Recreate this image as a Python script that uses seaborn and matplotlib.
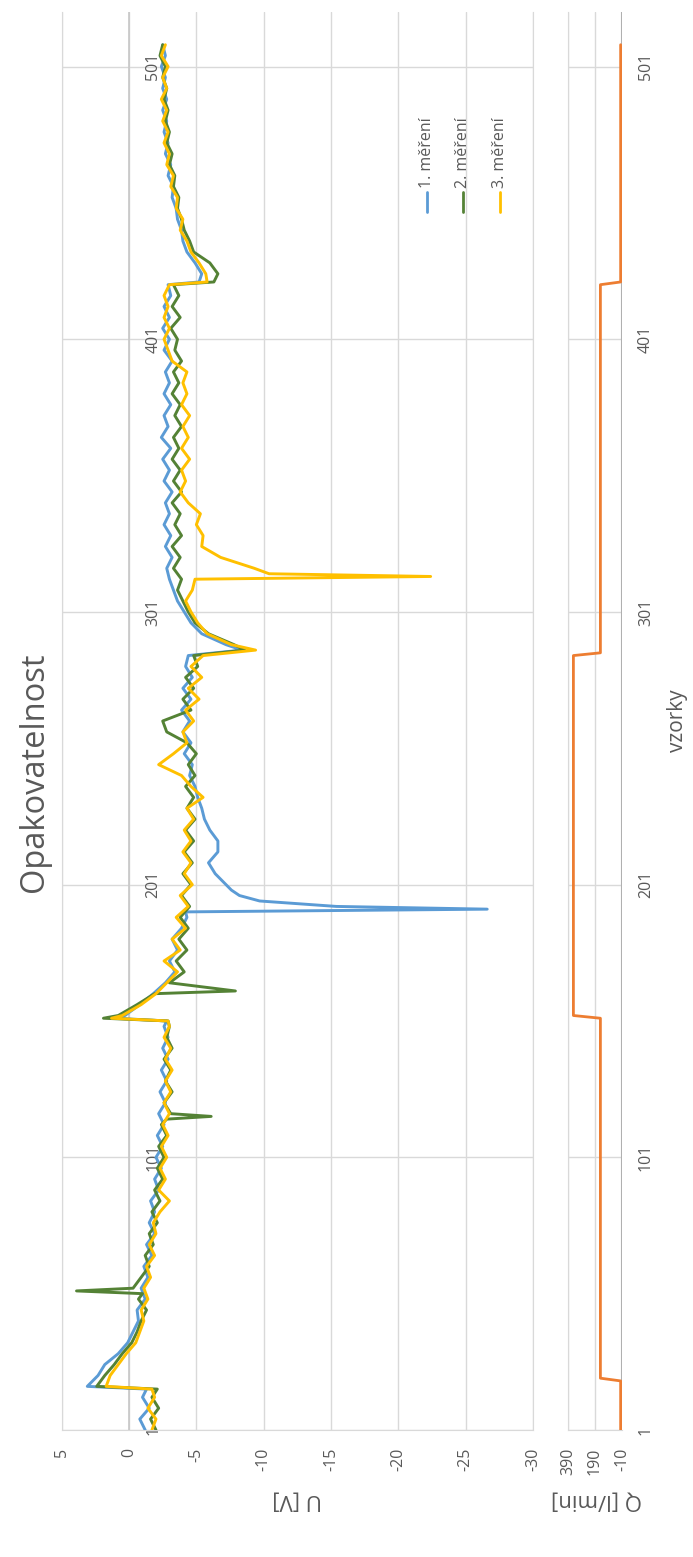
import pandas as pd
import seaborn as sns
import matplotlib.pyplot as plt
from matplotlib.lines import Line2D

# vzorky (samples) on a coarse grid, U [V]
vzorky = list(range(1, 510, 4))

mereni1 = [-1.2, -0.8, -1.5, -1.0, 3.1, 2.3, 1.8, 0.8,
           0.1, -0.3, -0.7, -0.6, -1.2, -0.9, -1.4, -1.1,
           -1.7, -1.3, -1.9, -1.5, -1.9, -1.6, -2.2, -1.9,
           -2.4, -2.0, -2.5, -2.1, -2.6, -2.2, -2.7, -2.3,
           -2.8, -2.4, -2.9, -2.5, -2.9, -2.6, 0.3, -0.8,
           -1.8, -2.7, -3.4, -3.0, -3.6, -3.2, -3.9, -4.3,
           -15.4, -8.2, -7.2, -6.4, -5.9, -6.6, -6.6, -6.0,
           -5.6, -5.4, -5.1, -4.9, -4.5, -4.7, -4.1, -4.6,
           -4.0, -4.5, -3.9, -4.6, -4.0, -4.7, -4.2, -4.4,
           -7.2, -5.4, -4.6, -4.1, -3.6, -3.3, -3.0, -2.8,
           -3.2, -2.7, -3.1, -2.6, -3.0, -2.7, -3.2, -2.6,
           -3.0, -2.5, -3.1, -2.4, -2.9, -2.6, -3.1, -2.6,
           -3.0, -2.7, -3.2, -2.6, -3.0, -2.5, -3.0, -2.6,
           -3.1, -2.9, -5.4, -4.9, -4.3, -4.0, -3.9, -3.6,
           -3.5, -3.2, -3.3, -2.9, -3.1, -2.7, -2.9, -2.6,
           -2.8, -2.5, -2.8, -2.5, -2.7, -2.4, -2.7, -2.5]
spicky1_x = [16, 151, 152, 191, 192, 195, 199, 287, 422]
spicky1_y = [-1.3, -2.8, 1.0, -4.2, -26.6, -9.7, -7.6, -8.4, -5.2]

mereni2 = [-2.0, -1.6, -2.2, -1.7, 2.4, 1.8, 1.1, 0.5,
           -0.2, -0.6, -0.9, -1.3, -0.7, -0.3, -0.9, -1.5,
           -1.2, -1.8, -1.5, -2.1, -1.7, -2.3, -1.9, -2.5,
           -2.1, -2.6, -2.2, -2.8, -2.4, -3.1, -2.6, -3.2,
           -2.7, -3.1, -2.6, -3.2, -2.8, -3.0, 0.8, -0.6,
           -1.9, -3.0, -4.1, -3.5, -4.3, -3.7, -4.4, -3.8,
           -4.5, -3.9, -4.6, -4.0, -4.7, -4.1, -4.8, -4.2,
           -4.9, -4.3, -4.8, -4.2, -4.9, -4.4, -5.0, -4.3,
           -2.8, -2.5, -4.6, -4.0, -4.8, -4.2, -5.1, -4.8,
           -7.8, -5.9, -4.9, -4.4, -4.0, -3.6, -3.9, -3.3,
           -3.8, -3.2, -3.9, -3.4, -3.8, -3.2, -3.9, -3.3,
           -3.8, -3.2, -3.7, -3.3, -3.9, -3.4, -3.8, -3.2,
           -3.7, -3.3, -3.9, -3.4, -3.6, -3.1, -3.8, -3.2,
           -3.7, -3.3, -6.6, -6.0, -4.8, -4.5, -4.1, -3.9,
           -3.6, -3.7, -3.3, -3.4, -3.0, -3.2, -2.8, -3.0,
           -2.7, -2.9, -2.6, -2.8, -2.5, -2.7, -2.3, -2.5]
spicky2_x = [16, 51, 52, 115, 116, 151, 152, 162, 287, 422]
spicky2_y = [-2.1, -1.0, 3.9, -2.8, -6.1, -2.9, 1.9, -7.9, -8.6, -6.3]

mereni3 = [-1.7, -2.0, -1.4, -1.9, 1.7, 1.4, 0.8, 0.2,
           -0.5, -0.8, -1.1, -0.9, -1.4, -1.1, -1.6, -1.3,
           -1.9, -1.5, -2.0, -1.8, -2.3, -3.0, -2.2, -2.7,
           -2.3, -2.8, -2.4, -2.9, -2.5, -3.0, -2.6, -3.1,
           -2.7, -3.2, -2.7, -3.1, -2.6, -3.0, 0.5, -0.9,
           -2.0, -2.8, -3.6, -2.6, -3.8, -3.2, -4.2, -3.5,
           -4.4, -3.8, -4.7, -4.1, -4.6, -4.0, -4.6, -4.1,
           -4.8, -4.3, -5.5, -4.6, -3.9, -2.2, -3.3, -4.3,
           -4.0, -4.8, -4.2, -5.2, -4.4, -5.4, -4.6, -5.5,
           -7.6, -5.8, -5.1, -4.6, -4.2, -4.7, -4.9, -9.3,
           -6.8, -5.4, -5.5, -5.0, -5.3, -4.4, -3.8, -4.2,
           -3.9, -4.5, -3.9, -4.4, -4.0, -4.5, -3.9, -4.3,
           -4.0, -4.3, -3.2, -2.9, -2.6, -3.0, -2.6, -2.9,
           -2.6, -3.0, -5.7, -5.2, -4.6, -4.3, -3.8, -4.0,
           -3.5, -3.6, -3.1, -3.3, -2.8, -3.0, -2.6, -2.9,
           -2.5, -2.8, -2.4, -2.8, -2.5, -2.9, -2.4, -2.7]
spicky3_x = [16, 151, 152, 287, 314, 315, 422]
spicky3_y = [-1.7, -2.9, 1.3, -9.4, -22.4, -10.4, -5.8]

# flow Q [l/min]
prutok_x = [1, 19, 20, 152, 153, 285, 286, 421, 422, 509]
prutok_y = [0, 0, 150, 150, 350, 350, 150, 150, 0, 0]

nazvy = ['1. měření', '2. měření', '3. měření']
barvy = ['#5B9BD5', '#548235', '#FFC000']
u_ticks = [5, 0, -5, -10, -15, -20, -25, -30]
q_ticks = [390, 190, -10]
vzorky_ticks = [1, 101, 201, 301, 401, 501]

sns.set_style('white')
plt.rcParams['font.family'] = ['Open Sans', 'DejaVu Sans']
sedy = '#595959'
mrizka = '#d9d9d9'

W, H = 693, 1557
fig = plt.figure(figsize=(W / 100, H / 100), dpi=100)
ax = fig.add_axes([61.7 / W, 1 - 1430 / H, (533 - 61.7) / W, (1430 - 12) / H])
ax_q = fig.add_axes([568 / W, 1 - 1430 / H, (622 - 568) / W, (1430 - 12) / H], sharey=ax)


def serie(base, ex_x, ex_y):
    df = pd.DataFrame({'vzorek': vzorky + ex_x, 'U': base + ex_y})
    return df.sort_values('vzorek')


data = [serie(mereni1, spicky1_x, spicky1_y),
        serie(mereni2, spicky2_x, spicky2_y),
        serie(mereni3, spicky3_x, spicky3_y)]

for df, barva in zip(data, barvy):
    sns.lineplot(data=df, x='U', y='vzorek', orient='y', estimator=None, sort=True,
                 color=barva, lw=2.1, ax=ax, zorder=3)

ax.set_xlim(5, -30)
ax.set_ylim(1, 521)
ax.set_xticks(u_ticks)
ax.set_xticklabels([str(t) for t in u_ticks], rotation=90)
ax.set_yticks(vzorky_ticks)
ax.tick_params(axis='y', left=False, labelleft=False)
ax.tick_params(axis='x', length=0, pad=13, labelsize=11.5, labelcolor=sedy)
ax.grid(True, color=mrizka, lw=1.0)
ax.set_axisbelow(True)
ax.axvline(0, color='#c8c8c8', lw=1.2, zorder=1)
ax.set_xlabel('')
ax.set_ylabel('')
for side in ['left', 'right', 'bottom']:
    ax.spines[side].set_color(mrizka)
ax.spines['top'].set_visible(False)

# sample labels next to the U = 0 axis
for t in vzorky_ticks:
    ax.text(-1.2, t, str(t), rotation=90, ha='left', va='center',
            fontsize=11.5, color=sedy, clip_on=False, zorder=2)

# flow panel
sns.lineplot(x=prutok_y, y=prutok_x, orient='y', estimator=None, sort=True,
             color='#ED7D31', lw=2.0, ax=ax_q, zorder=3)
ax_q.set_xlim(390, -10)
ax_q.set_xticks(q_ticks)
ax_q.set_xticklabels([str(t) for t in q_ticks], rotation=90)
ax_q.tick_params(axis='x', length=0, pad=13, labelsize=11.5, labelcolor=sedy)
ax_q.grid(True, color=mrizka, lw=1.0)
ax_q.set_axisbelow(True)
ax_q.axvline(-10, color='#b0b0b0', lw=1.5, zorder=2)
ax_q.yaxis.tick_right()
ax_q.tick_params(axis='y', length=0, pad=11.5, labelsize=11.5, labelcolor=sedy,
                 left=False, labelleft=False, labelright=True)
for lab in ax_q.get_yticklabels():
    lab.set_rotation(90)
    lab.set_va('center')
ax_q.set_xlabel('')
ax_q.yaxis.set_label_position('right')
ax_q.set_ylabel('vzorky', rotation=90, fontsize=15, color=sedy)
ax_q.yaxis.set_label_coords((667 - 568) / 54, 0.5)
for side in ['top', 'right']:
    ax_q.spines[side].set_visible(False)
for side in ['left', 'bottom']:
    ax_q.spines[side].set_color(mrizka)

# titles (chart is drawn turned on its side)
fig.text(35 / W, 1 - 772 / H, 'Opakovatelnost', rotation=90, ha='center', va='center',
         fontsize=23.5, color=sedy)
fig.text(297 / W, 1 - 1500 / H, 'U [V]', rotation=180, ha='center', va='center',
         fontsize=16, color=sedy)
fig.text(597 / W, 1 - 1500 / H, 'Q [l/min]', rotation=180, ha='center', va='center',
         fontsize=16, color=sedy)

# legend, turned like the rest of the chart
for x, nazev, barva in zip([427, 463, 500], nazvy, barvy):
    fig.add_artist(Line2D([x / W, x / W], [1 - 212 / H, 1 - 192 / H], color=barva, lw=2.0))
    fig.text(x / W, 1 - 188 / H, nazev, rotation=90, ha='center', va='bottom',
             fontsize=11.5, color=sedy)

fig.savefig('out.png', dpi=100)
